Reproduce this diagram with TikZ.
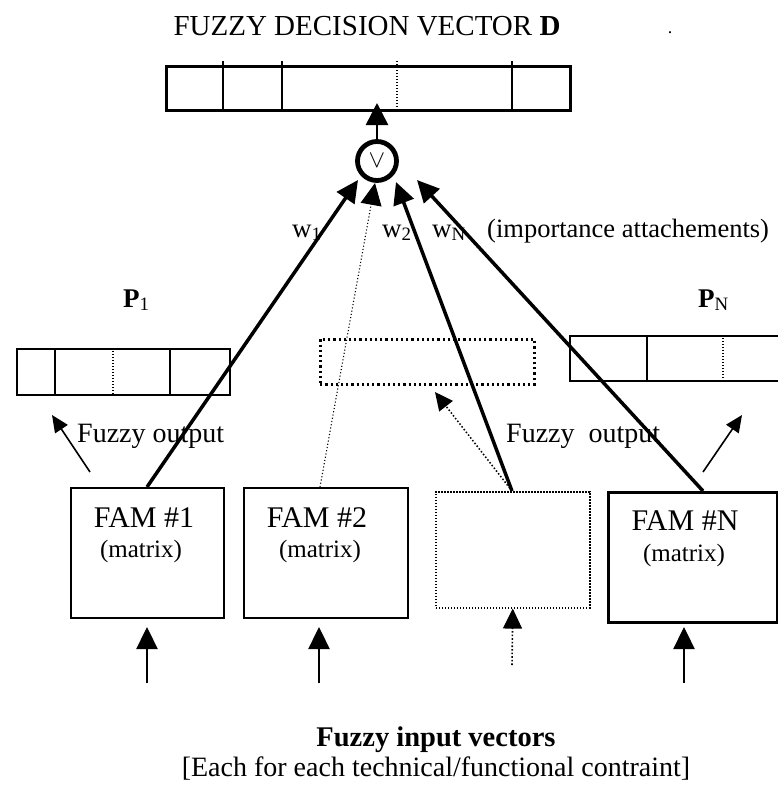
\documentclass[tikz,border=0pt]{standalone}
\usepackage{fontspec}
\setmainfont{Liberation Serif}
\usetikzlibrary{arrows.meta}
\begin{document}
\begin{tikzpicture}[x=1pt,y=-1pt,
  vbox/.style={draw, line width=2pt, inner sep=0pt, anchor=north west, rectangle},
  dotbox/.style={draw, line width=2.5pt, dash pattern=on 2.2pt off 3pt, inner sep=0pt, anchor=north west, rectangle},
  fambox/.style={draw, line width=2.2pt, inner sep=0pt, anchor=north west, rectangle},
  divsolid/.style={line width=2pt},
  divdot/.style={line width=1.3pt, dash pattern=on 1.3pt off 1.7pt},
  bigarrow/.style={line width=3.5pt, -{Triangle[length=22pt,width=21pt]}},
  dotarrow/.style={line width=1.1pt, dash pattern=on 1.1pt off 2.2pt, -{Triangle[length=22pt,width=21pt]}},
  inarrow/.style={line width=2.4pt, -{Triangle[length=22pt,width=21pt]}},
  inarrowdot/.style={line width=1.6pt, dash pattern=on 1.6pt off 2pt, -{Triangle[length=20pt,width=19pt]}},
  outarrow/.style={line width=1.6pt, -{Triangle[length=17pt,width=15pt]}},
  outarrowdot/.style={line width=1.5pt, dash pattern=on 1.5pt off 2pt, -{Triangle[length=18pt,width=17pt]}},
  lbl/.style={inner sep=0pt, font=\fontsize{28}{32}\selectfont},
]
\useasboundingbox (0,0) rectangle (777,785);

% title and stray dot
\node[lbl, anchor=base, font=\fontsize{29}{34}\selectfont] (title) at (367,35) {FUZZY DECISION VECTOR \textbf{D}};
\node[lbl, anchor=base, font=\fontsize{18}{20}\selectfont] (dot) at (670,33) {.};

% decision vector D
\node[vbox, line width=2.5pt, minimum width=404pt, minimum height=44pt] (D) at (165,65) {};
\draw[divsolid] (223,61) -- (223,109);
\draw[divsolid] (282,61) -- (282,109);
\draw[divdot] (397,61) -- (397,109);
\draw[divsolid] (512,61) -- (512,109);

% OR node
\node[circle, draw, line width=4.8pt, minimum size=39pt, inner sep=0pt] (or) at (377,161) {\fontsize{25}{25}\selectfont$\vee$};
\coordinate (Dtip) at (377,103);
\draw[line width=2.6pt, -{Triangle[length=22pt,width=22pt]}] (or.north) -- (Dtip);

% weight labels
\node[lbl, anchor=base west, font=\fontsize{27}{32}\selectfont] (w1) at (292,237) {w\textsubscript{1}};
\node[lbl, anchor=base west, font=\fontsize{27}{32}\selectfont] (w2) at (382,237) {w\textsubscript{2}};
\node[lbl, anchor=base west, font=\fontsize{27}{32}\selectfont] (wN) at (432,237) {w\textsubscript{N}};
\node[lbl, anchor=base west, font=\fontsize{26.5}{32}\selectfont] (imp) at (487,237) {(importance attachements)};

% P labels
\node[lbl, anchor=base west, font=\fontsize{27}{32}\selectfont] (P1) at (123,307) {\textbf{P}\textsubscript{1}};
\node[lbl, anchor=base west, font=\fontsize{27}{32}\selectfont] (PN) at (698,307) {\textbf{P}\textsubscript{N}};

% P1 vector
\node[vbox, minimum width=213pt, minimum height=46pt] (P1box) at (16,348) {};
\draw[divsolid] (55,348) -- (55,394);
\draw[divdot] (113,348) -- (113,394);
\draw[divsolid] (170,348) -- (170,394);

% middle (dotted) vector
\node[dotbox, minimum width=214pt, minimum height=45pt] (P2box) at (319,338) {};

% PN vector (runs past the right edge)
\node[vbox, minimum width=240pt, minimum height=45pt] (PNbox) at (569,335) {};
\draw[divsolid] (647,335) -- (647,380);
\draw[divdot] (723,335) -- (723,380);

% Fuzzy output labels
\node[lbl, anchor=base west] (fo1) at (77,442) {Fuzzy output};
\node[lbl, anchor=base west] (fo2) at (506,442) {Fuzzy\ \ output};

% FAM boxes
\node[fambox, minimum width=153pt, minimum height=130pt] (fam1) at (70,487) {};
\node[fambox, minimum width=164pt, minimum height=130pt] (fam2) at (243,487) {};
\node[draw, line width=1.6pt, dash pattern=on 1.6pt off 1.4pt, inner sep=0pt, anchor=north west, minimum width=154pt, minimum height=116pt] (famx) at (435,491) {};
\node[fambox, line width=2.6pt, minimum width=169pt, minimum height=130pt] (famN) at (607,491) {};

\node[lbl, anchor=base, font=\fontsize{30}{34}\selectfont] (fam1a) at (144,527) {FAM \#1};
\node[lbl, anchor=base, font=\fontsize{25}{30}\selectfont] (fam1b) at (141,557) {(matrix)};
\node[lbl, anchor=base, font=\fontsize{30}{34}\selectfont] (fam2a) at (317,527) {FAM \#2};
\node[lbl, anchor=base, font=\fontsize{25}{30}\selectfont] (fam2b) at (320,557) {(matrix)};
\node[lbl, anchor=base, font=\fontsize{30}{34}\selectfont] (famNa) at (685,530) {FAM \#N};
\node[lbl, anchor=base, font=\fontsize{25}{30}\selectfont] (famNb) at (684,561) {(matrix)};

% connector anchor points
\coordinate (s1) at (147,487);
\coordinate (s2) at (320,487);
\coordinate (sx) at (512,491);
\coordinate (sN) at (703,491);
\coordinate (t1) at (358,180);
\coordinate (t2) at (375,183);
\coordinate (tx) at (396,182);
\coordinate (tN) at (417,180);

% weighted connections to OR node
\draw[bigarrow] (s1) -- (t1);
\draw[dotarrow] (s2) -- (t2);
\draw[bigarrow] (sx) -- (tx);
\draw[bigarrow] (sN) -- (tN);

% fuzzy output arrows
\coordinate (o1s) at (90,472);
\coordinate (o1t) at (52,415);
\coordinate (oNs) at (703,472);
\coordinate (oNt) at (742,415);
\coordinate (oxt) at (435,392);
\draw[outarrow] (o1s) -- (o1t);
\draw[outarrow] (oNs) -- (oNt);
\draw[outarrowdot] (sx) -- (oxt);

% inputs
\coordinate (i1) at (147,683);
\coordinate (i2) at (319,683);
\coordinate (ix) at (512,665);
\coordinate (iN) at (684,683);
\draw[inarrow] (i1) -- (147,627);
\draw[inarrow] (i2) -- (319,627);
\draw[inarrowdot] (ix) -- (famx.south);
\draw[inarrow] (iN) -- (684,627);

% bottom caption
\node[lbl, anchor=base, font=\fontsize{28.5}{32}\selectfont\bfseries] (cap1) at (436,746) {Fuzzy input vectors};
\node[lbl, anchor=base, font=\fontsize{28}{32}\selectfont] (cap2) at (436,776) {[Each for each technical/functional contraint]};
\end{tikzpicture}
\end{document}
